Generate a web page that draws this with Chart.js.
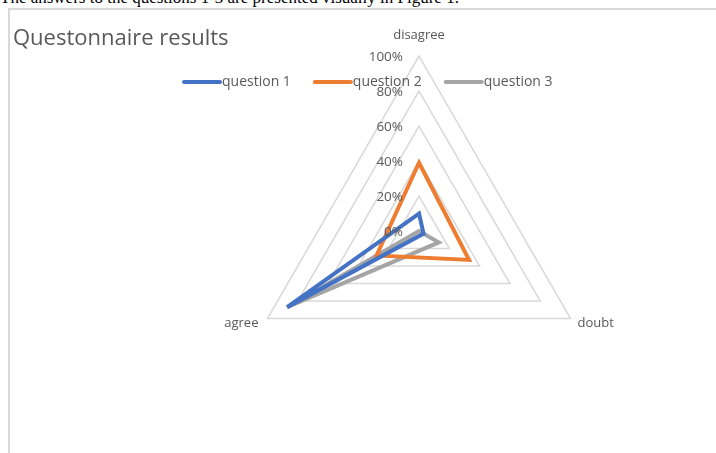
<!DOCTYPE html>
<html>
<head>
<meta charset="utf-8">
<title>Questonnaire results</title>
<script src="https://cdn.jsdelivr.net/npm/chart.js@4"></script>
<style>
  html, body { margin: 0; padding: 0; background: #fff; width: 716px; height: 453px; overflow: hidden; }
  #intro { position: absolute; left: 0; top: -12px; line-height: 17px; font: 17px "Liberation Serif", "Times New Roman", serif; color: #000; white-space: nowrap; }
  #frame { position: absolute; left: 8px; top: 8px; width: 800px; height: 600px; border-left: 2px solid #d9d9d9; border-top: 2px solid #d9d9d9; box-sizing: border-box; }
  #wrap { position: absolute; left: 0; top: 0; width: 716px; height: 453px; }
</style>
</head>
<body>
<div id="intro">The answers to the questions 1-3 are presented visually in Figure 1.</div>
<div id="frame"></div>
<div id="wrap"><canvas id="chart" width="716" height="453"></canvas></div>
<script>
// Answer shares (%) per question, in axis order: disagree, doubt, agree
const categories = ['disagree', 'doubt', 'agree'];
const question1 = [10, 3, 87];
const question2 = [39, 33, 28];
const question3 = [0, 13, 87];
const seriesNames = ['question 1', 'question 2', 'question 3'];
const seriesColors = ['#4472C4', '#ED7D31', '#A5A5A5'];
const tickValues = [0, 20, 40, 60, 80, 100];
const chartTitle = 'Questonnaire results';

const TEXT = '#595959';
const FONT = '"Open Sans", "Liberation Sans", sans-serif';

// Title, legend, percentage ticks and axis names drawn around the radar
const decorations = {
  id: 'decorations',
  afterDraw(chart) {
    const ctx = chart.ctx;
    const r = chart.scales.r;
    ctx.save();
    ctx.fillStyle = TEXT;

    // title
    ctx.font = '22px ' + FONT;
    ctx.textAlign = 'left';
    ctx.textBaseline = 'alphabetic';
    ctx.fillText(chartTitle, 13, 45);

    // percentage ticks, left of the vertical axis
    ctx.font = '13.5px ' + FONT;
    ctx.textAlign = 'right';
    ctx.textBaseline = 'middle';
    tickValues.forEach(v => {
      const y = r.yCenter - r.getDistanceFromCenterForValue(v);
      ctx.fillText(v + '%', r.xCenter - 16, y + 1);
    });

    // axis names at the outer vertices
    ctx.font = '13px ' + FONT;
    categories.forEach((name, i) => {
      const p = r.getPointPosition(i, r.drawingArea);
      if (i === 0) {
        ctx.textAlign = 'center';
        ctx.fillText(name, p.x, p.y - 21);
      } else if (p.x > r.xCenter) {
        ctx.textAlign = 'left';
        ctx.fillText(name, p.x + 7, p.y + 5);
      } else {
        ctx.textAlign = 'right';
        ctx.fillText(name, p.x - 9, p.y + 5);
      }
    });

    // legend
    ctx.font = '14px ' + FONT;
    ctx.textAlign = 'left';
    let x = 182;
    const ly = 82;
    chart.data.datasets.forEach(ds => {
      ctx.strokeStyle = ds.borderColor;
      ctx.lineWidth = 4;
      ctx.lineCap = 'round';
      ctx.beginPath();
      ctx.moveTo(x + 2, ly);
      ctx.lineTo(x + 38, ly);
      ctx.stroke();
      ctx.fillText(ds.label, x + 40, ly);
      x += 40 + ctx.measureText(ds.label).width + 22;
    });
    ctx.restore();
  }
};

const seriesValues = [question1, question2, question3];

new Chart(document.getElementById('chart'), {
  type: 'radar',
  data: {
    labels: categories,
    datasets: seriesValues.map((vals, i) => ({
      label: seriesNames[i],
      data: vals,
      borderColor: seriesColors[i],
      backgroundColor: 'transparent',
      fill: false,
      borderWidth: 4,
      borderJoinStyle: 'miter',
      pointRadius: 0,
      pointHoverRadius: 0,
      tension: 0
    }))
  },
  options: {
    responsive: false,
    animation: false,
    layout: { padding: { left: 244, right: 122, top: 56, bottom: 47 } },
    plugins: {
      legend: { display: false },
      title: { display: false },
      tooltip: { enabled: false }
    },
    scales: {
      r: {
        min: 0,
        max: 100,
        ticks: { display: false, stepSize: 20 },
        pointLabels: { display: false },
        angleLines: { display: false },
        grid: { color: '#d9d9d9', lineWidth: 1.5 }
      }
    }
  },
  plugins: [decorations]
});
</script>
</body>
</html>
